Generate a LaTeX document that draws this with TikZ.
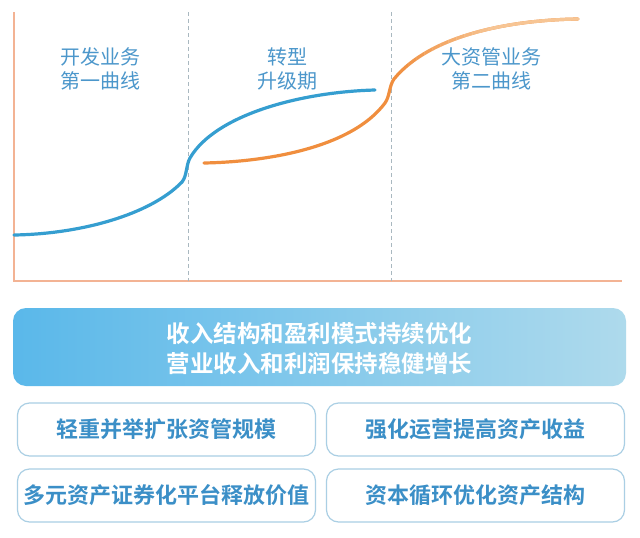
\documentclass[tikz,border=0pt]{standalone}
\usepackage{fontspec}
\setmainfont{Noto Sans CJK SC}
\newfontfamily\cjk{Noto Sans CJK SC}
\newfontfamily\cjkb{Noto Sans CJK SC Bold}
\usetikzlibrary{calc}
\definecolor{axisc}{HTML}{F3B394}
\definecolor{dashc}{HTML}{A9B8C0}
\definecolor{bluec}{HTML}{359ED0}
\definecolor{orangec}{HTML}{F08E3E}
\definecolor{peach}{HTML}{F7C594}
\definecolor{labelc}{HTML}{4C97CB}
\definecolor{boxtext}{HTML}{3B8FC7}
\definecolor{boxline}{HTML}{AACFE4}
\definecolor{bannerl}{HTML}{5AB8EA}
\definecolor{bannerr}{HTML}{AEDAEC}
\begin{document}
\begin{tikzpicture}[x=1pt,y=-1pt,
  axisline/.style={draw=axisc,line width=1.3pt},
  divider/.style={draw=dashc,line width=0.9pt,dash pattern=on 4pt off 3pt},
  curveline/.style={line width=3.2pt,line cap=round},
  phase/.style={font=\cjk\fontsize{20}{24}\selectfont,text=labelc,align=center},
  pillbox/.style={draw=boxline,line width=1.2pt,rounded corners=12pt,fill=white,
    minimum width=298pt,minimum height=53pt,inner sep=0pt,
    font=\cjkb\fontsize{22}{26}\selectfont,text=boxtext},
  banner/.style={rounded corners=13pt,left color=bannerl,right color=bannerr,
    minimum width=613pt,minimum height=78pt,inner sep=0pt},
  bannertext/.style={align=center,font=\cjkb\fontsize{23.5}{30}\selectfont,text=white}]
\useasboundingbox (0,0) rectangle (640,538);
\fill[white] (0,0) rectangle (640,538);

% axes
\coordinate (o) at (14,281);
\coordinate (ytop) at (14,12);
\coordinate (xend) at (622,281);
\draw[axisline] (ytop) -- (o) -- (xend);
% dividers
\coordinate (d1t) at (188,12); \coordinate (d1b) at (188,281);
\coordinate (d2t) at (391,12); \coordinate (d2b) at (391,281);
\draw[divider] (d1t) -- (d1b);
\draw[divider] (d2t) -- (d2b);

% first curve
\draw[curveline,bluec] (14,235) .. controls (80,234) and (150,215) .. (182,182)
  .. controls (187,176) and (186,165) .. (190,158)
  .. controls (215,115) and (300,92) .. (375,90);

% second curve
\def\orangepath{(204,163) .. controls (260,162) and (350,150) .. (385,103)
  .. controls (390,96) and (389,86) .. (394,79)
  .. controls (430,35) and (510,20) .. (578,19)}
\draw[curveline,orangec] \orangepath;
\foreach \i in {0,...,19}{
  \begin{scope}
    \clip ({392+\i*8},0) rectangle ({400+\i*8+0.5},200);
    \pgfmathsetmacro{\op}{min(1,\i/12)}
    \draw[curveline,peach,opacity=\op] \orangepath;
  \end{scope}
}
\begin{scope}
  \clip (552,0) rectangle (600,200);
  \draw[curveline,peach] \orangepath;
\end{scope}

% phase labels
\node[phase] (p1) at (100,69) {开发业务\\第一曲线};
\node[phase] (p2) at (287,69) {转型\\升级期};
\node[phase] (p3) at (491,69) {大资管业务\\第二曲线};

% banner
\node[banner] (bn) at (319.5,347) {};
\node[bannertext] (bt) at ($(bn.center)+(0,1.5)$) {收入结构和盈利模式持续优化\\营业收入和利润保持稳健增长};

% boxes
\node[pillbox] (b1) at (166.5,429.5) {轻重并举扩张资管规模};
\node[pillbox] (b2) at (475.5,429.5) {强化运营提高资产收益};
\node[pillbox] (b3) at (166.5,495.5) {多元资产证券化平台释放价值};
\node[pillbox] (b4) at (475.5,495.5) {资本循环优化资产结构};
\end{tikzpicture}
\end{document}
